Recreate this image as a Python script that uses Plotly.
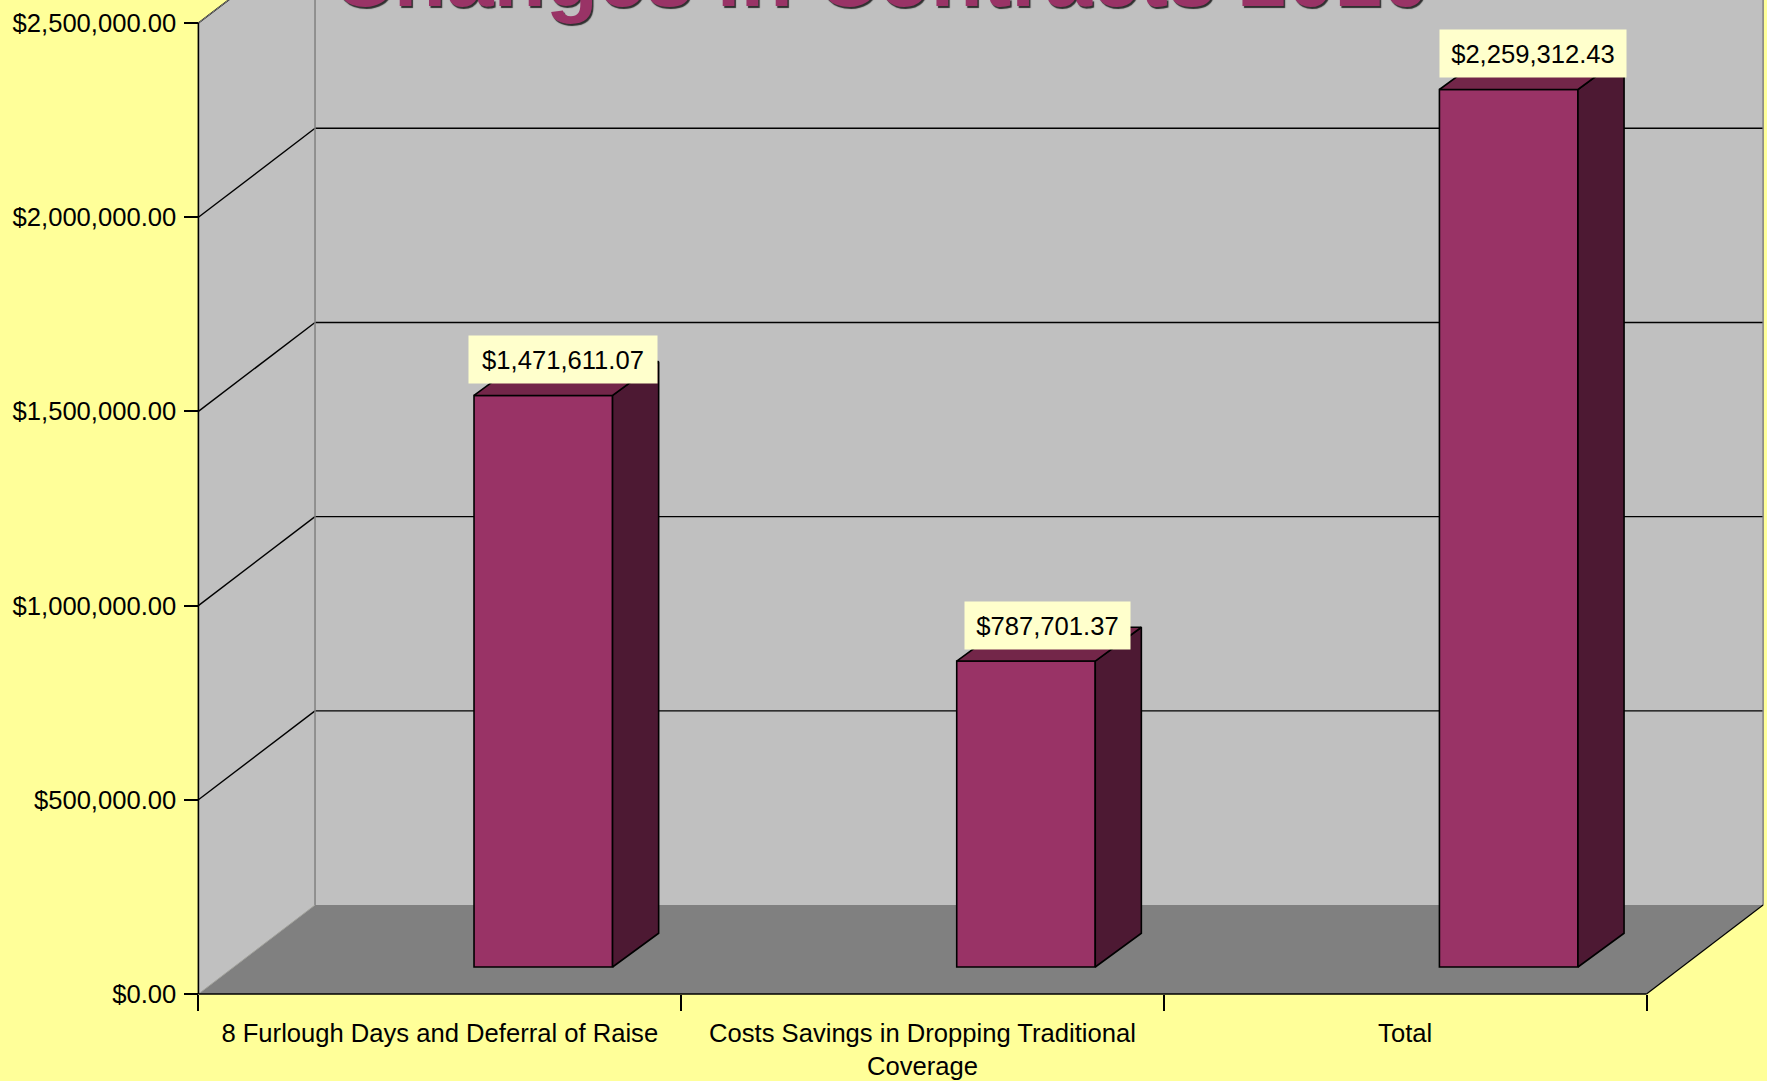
import plotly.graph_objects as go

# --- data ---
categories = ["8 Furlough Days and Deferral of Raise",
              "Costs Savings in Dropping Traditional<br>Coverage",
              "Total"]
values = [1471611.07, 787701.37, 2259312.43]
value_labels = ["$1,471,611.07", "$787,701.37", "$2,259,312.43"]
y_ticks = [0, 500000, 1000000, 1500000, 2000000, 2500000]
title_text = "Changes in Contracts 2010"

# --- page / scale set-up: axes cover the page ---
W, H = 1767, 1081
X0_PX, Y0_PX = 198.4, 994.0      # chart origin in page pixels
PX_PER_CAT, PX_PER_VAL = 482.7, 194.2 / 500000
x_range = [-X0_PX / PX_PER_CAT, (W - X0_PX) / PX_PER_CAT]
y_range = [-(H - Y0_PX) / PX_PER_VAL, Y0_PX / PX_PER_VAL]

# 3-D look, in axis units
WALL_DX, WALL_DY = 0.2416, 229000
BAR_SHIFT, BAR_W = 0.2145, 0.287
BAR_FLOOR = 69500
BAR_DX, BAR_DY = 0.0955, 87000
LABEL_STYLE = [(0.04, 186), (0.044, 163), (0.05, 184)]  # x offset, box width

YELLOW, WALL, FLOOR = "#FFFF99", "#C0C0C0", "#808080"
FRONT, SIDE, TOP = "#993366", "#4D1933", "#732649"
LABEL_BG = "#FFFFCC"
FONT = "Liberation Sans"
FS = 25.6
X_MAX = len(categories)
Y_MAX = max(y_ticks)


def poly(points):
    return "M" + " L".join(f"{x},{y}" for x, y in points) + " Z"


shapes = []
def add_poly(points, fill):
    shapes.append(dict(type="path", path=poly(points), xref="x", yref="y", layer="below",
                       fillcolor=fill, line=dict(width=0)))
def add_line(x0, y0, x1, y1, color="#000000", width=1.4):
    shapes.append(dict(type="line", x0=x0, y0=y0, x1=x1, y1=y1, xref="x", yref="y",
                       layer="below", line=dict(color=color, width=width)))

# walls and floor
add_poly([(WALL_DX, WALL_DY), (X_MAX + WALL_DX, WALL_DY),
          (X_MAX + WALL_DX, Y_MAX + WALL_DY), (WALL_DX, Y_MAX + WALL_DY)], WALL)
add_poly([(0, 0), (0, Y_MAX), (WALL_DX, Y_MAX + WALL_DY), (WALL_DX, WALL_DY)], WALL)
add_poly([(0, 0), (X_MAX, 0), (X_MAX + WALL_DX, WALL_DY), (WALL_DX, WALL_DY)], FLOOR)
# gridlines
for t in y_ticks[1:]:
    add_line(0, t, WALL_DX, t + WALL_DY)
    add_line(WALL_DX, t + WALL_DY, X_MAX + WALL_DX, t + WALL_DY)
# edges
add_line(WALL_DX, WALL_DY, WALL_DX, Y_MAX + WALL_DY, FLOOR, 1.5)
add_line(X_MAX + WALL_DX, WALL_DY, X_MAX + WALL_DX, Y_MAX + WALL_DY, FLOOR, 1.5)
add_line(0, Y_MAX, WALL_DX, Y_MAX + WALL_DY, FLOOR, 1)
add_line(0, 0, WALL_DX, WALL_DY, "#A0A0A0", 1)
add_line(X_MAX, 0, X_MAX + WALL_DX, WALL_DY, "#000000", 1.2)
add_line(0, 0, 0, Y_MAX, "#000000", 1.6)
add_line(0, 0, X_MAX, 0, "#000000", 1.6)

fig = go.Figure()
centres = [i + 0.5 for i in range(len(categories))]
bar_x = [c + BAR_SHIFT for c in centres]

fig.add_trace(go.Bar(x=bar_x, y=values, base=[BAR_FLOOR] * len(values), width=BAR_W,
                     marker=dict(color=FRONT, line=dict(color="#000000", width=1.6)),
                     hoverinfo="skip", showlegend=False))

annotations = []
for bx, v, lab, (ldx, w) in zip(bar_x, values, value_labels, LABEL_STYLE):
    xl, xr = bx - BAR_W / 2, bx + BAR_W / 2
    yb, yt = BAR_FLOOR, BAR_FLOOR + v
    fig.add_trace(go.Scatter(
        x=[xr, xr + BAR_DX, xr + BAR_DX, xr, xr],
        y=[yb, yb + BAR_DY, yt + BAR_DY, yt, yb],
        mode="lines", fill="toself", fillcolor=SIDE, line=dict(color="#000000", width=1.6),
        hoverinfo="skip", showlegend=False))
    fig.add_trace(go.Scatter(
        x=[xl, xr, xr + BAR_DX, xl + BAR_DX, xl],
        y=[yt, yt, yt + BAR_DY, yt + BAR_DY, yt],
        mode="lines", fill="toself", fillcolor=TOP, line=dict(color="#000000", width=1.6),
        hoverinfo="skip", showlegend=False))
    annotations.append(dict(x=bx + ldx, y=yt, xref="x", yref="y", text=lab, showarrow=False,
                            xanchor="center", yanchor="middle", yshift=36, width=w, height=45,
                            bgcolor=LABEL_BG, font=dict(family=FONT, size=FS, color="#000000")))

# title, cut off by the top of the page as in the reference
annotations.append(dict(x=0.4988, y=1.0, xref="paper", yref="paper", text=f"<b>{title_text}</b>",
                        showarrow=False, xanchor="center", yanchor="bottom", yshift=-26,
                        font=dict(family=FONT, size=85.5, color=FRONT,
                                  shadow="1.5px 1.5px 1px #303030")))

# invisible trace on the overlay axis so it is drawn
fig.add_trace(go.Scatter(x=centres, y=[0] * len(centres), xaxis="x2", mode="markers",
                         marker=dict(opacity=0), hoverinfo="skip", showlegend=False))

fig.update_layout(
    width=W, height=H, margin=dict(l=0, r=0, t=0, b=0),
    paper_bgcolor=YELLOW, plot_bgcolor=YELLOW, barmode="overlay", showlegend=False,
    shapes=shapes, annotations=annotations,
    xaxis=dict(range=x_range, domain=[0, 1], anchor="free", position=(H - Y0_PX) / H,
               tickmode="array", tickvals=list(range(X_MAX + 1)),
               ticktext=[""] * (X_MAX + 1), ticks="outside", ticklen=16, tickwidth=1.6,
               tickcolor="#000000", showgrid=False, zeroline=False, showline=False),
    xaxis2=dict(range=x_range, domain=[0, 1], overlaying="x", anchor="free",
                position=(H - Y0_PX) / H, side="bottom",
                tickmode="array", tickvals=centres, ticktext=categories,
                ticks="outside", ticklen=16, tickcolor="rgba(0,0,0,0)",
                showgrid=False, zeroline=False, showline=False,
                tickfont=dict(family=FONT, size=FS, color="#000000")),
    yaxis=dict(range=y_range, domain=[0, 1], anchor="free", position=X0_PX / W,
               tickmode="array", tickvals=y_ticks, tickformat="$,.2f",
               ticks="outside", ticklen=14, tickwidth=1.6, tickcolor="#000000",
               ticklabelstandoff=3,
               showgrid=False, zeroline=False, showline=False,
               tickfont=dict(family=FONT, size=FS, color="#000000")),
)

fig.write_html("out.html", config={"displayModeBar": False},
               post_script="document.body.style.margin='0';document.documentElement.style.overflow='hidden';")
